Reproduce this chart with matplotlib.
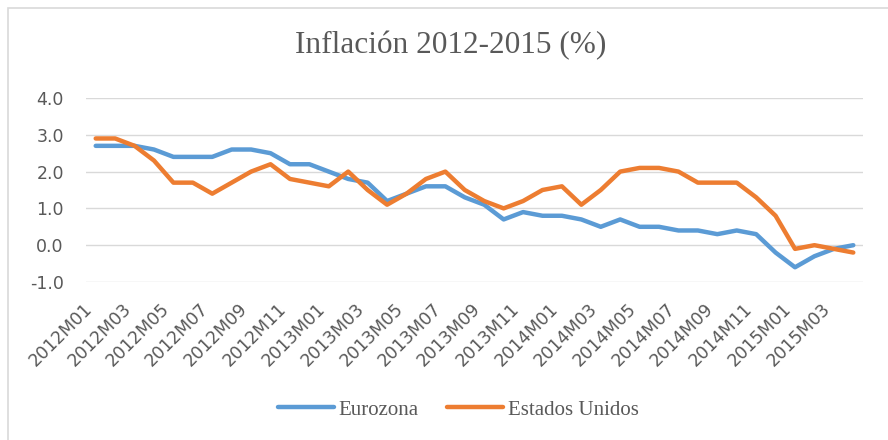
import matplotlib
matplotlib.use("Agg")
import matplotlib.pyplot as plt
from matplotlib.patches import Rectangle

# monthly labels 2012M01 .. 2015M04
months = []
for y in range(2012, 2016):
    for m in range(1, 13):
        months.append("%dM%02d" % (y, m))
months = months[:40]

eurozona = [2.7, 2.7, 2.7, 2.6, 2.4, 2.4, 2.4, 2.6, 2.6, 2.5, 2.2, 2.2,
            2.0, 1.8, 1.7, 1.2, 1.4, 1.6, 1.6, 1.3, 1.1, 0.7, 0.9, 0.8,
            0.8, 0.7, 0.5, 0.7, 0.5, 0.5, 0.4, 0.4, 0.3, 0.4, 0.3, -0.2,
            -0.6, -0.3, -0.1, 0.0]
estados_unidos = [2.9, 2.9, 2.7, 2.3, 1.7, 1.7, 1.4, 1.7, 2.0, 2.2, 1.8, 1.7,
                  1.6, 2.0, 1.5, 1.1, 1.4, 1.8, 2.0, 1.5, 1.2, 1.0, 1.2, 1.5,
                  1.6, 1.1, 1.5, 2.0, 2.1, 2.1, 2.0, 1.7, 1.7, 1.7, 1.3, 0.8,
                  -0.1, 0.0, -0.1, -0.2]
yticks = [-1.0, 0.0, 1.0, 2.0, 3.0, 4.0]

txt = "#595959"
grid = "#d9d9d9"

fig = plt.figure(figsize=(8.88, 4.40), dpi=100)
ax = fig.add_axes([86 / 888, 1 - 282 / 440, 777 / 888, 184 / 440])

x = list(range(len(months)))
ax.plot(x, eurozona, color="#5b9bd5", lw=3.2, label="Eurozona", solid_capstyle="round")
ax.plot(x, estados_unidos, color="#ed7d31", lw=3.2, label="Estados Unidos", solid_capstyle="round")

ax.set_xlim(-0.5, len(months) - 0.5)
ax.set_ylim(-1.0, 4.0)
ax.set_yticks(yticks)
ax.set_yticklabels(["%.1f" % v for v in yticks], color=txt, fontsize=12.5)
ax.set_xticks(x[::2])
ax.set_xticklabels(months[::2], rotation=45, ha="right", color=txt, fontsize=12.5)
ax.tick_params(axis="both", length=0)
ax.tick_params(axis="y", pad=16)
ax.tick_params(axis="x", pad=13)
ax.grid(axis="y", color=grid, lw=1.0)
ax.set_axisbelow(True)
for s in ax.spines.values():
    s.set_visible(False)

fig.text(451 / 888, 1 - 46 / 440, "Inflación 2012-2015 (%)", ha="center", va="center",
         fontsize=22.5, family="Liberation Serif", color=txt)

fig.legend(loc="center", bbox_to_anchor=(458 / 888, 1 - 410 / 440), ncol=2, frameon=False,
           prop={"family": "Liberation Serif", "size": 15}, labelcolor=txt,
           handlelength=2.7, handletextpad=0.2, columnspacing=1.4)

fig.patches.append(Rectangle((8 / 888, -0.1), 1.2, 1.1 - 8 / 440, transform=fig.transFigure,
                             fill=False, edgecolor=grid, lw=1.2))

fig.savefig("out.png", dpi=100)
